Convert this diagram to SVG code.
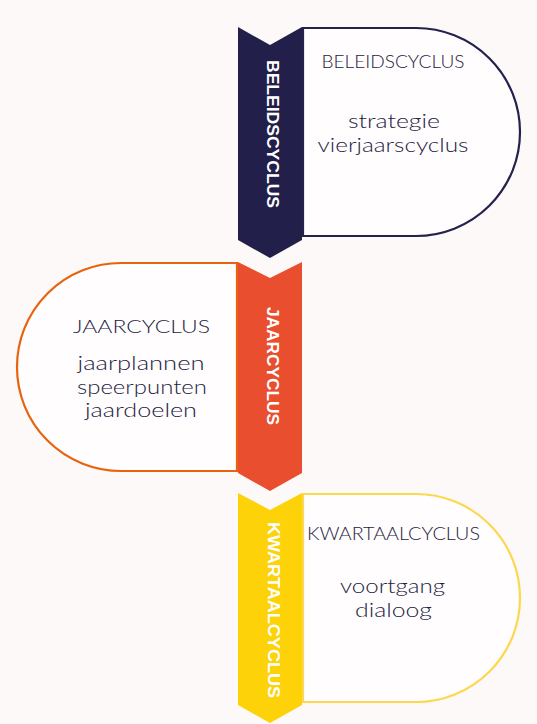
<svg xmlns="http://www.w3.org/2000/svg" width="537" height="724" viewBox="0 0 537 724">
<style>
.bg{fill:#fdf9f8}
.box{fill:#fffdfd;stroke-width:2.2}
.t{font-family:Lato,"Noto Sans",sans-serif;font-weight:300;fill:#23223d;text-anchor:middle}
.h{font-size:17px}
.b{font-size:19px}
.v{font-family:"Liberation Sans",Arial,sans-serif;font-weight:bold;font-size:16px;fill:#ffffff;text-anchor:middle}
</style>
<rect class="bg" x="0" y="0" width="537" height="724"/>
<g id="beleidscyclus">
<path class="box" stroke="#24224d" d="M303,28 H416 A104,104 0 0 1 416,236 H303 Z"/>
<polygon fill="#22204a" points="238,27 270,45 302,27 302,240 270,258 238,240"/>
<text class="v" transform="translate(267,134) rotate(90)" textLength="148" lengthAdjust="spacingAndGlyphs">BELEIDSCYCLUS</text>
<text class="t h" x="393" y="68" textLength="143" lengthAdjust="spacingAndGlyphs">BELEIDSCYCLUS</text>
<text class="t b" x="394" y="128" textLength="92" lengthAdjust="spacingAndGlyphs">strategie</text>
<text class="t b" x="393" y="152" textLength="151" lengthAdjust="spacingAndGlyphs">vierjaarscyclus</text>
</g>
<g id="jaarcyclus">
<path class="box" stroke="#e8630e" d="M237,263 H121 A104,104 0 0 0 121,471 H237 Z"/>
<polygon fill="#e94e2f" points="238,262 270,278 302,262 302,473 270,491 238,473"/>
<text class="v" transform="translate(267,366) rotate(90)" textLength="118" lengthAdjust="spacingAndGlyphs">JAARCYCLUS</text>
<text class="t h" x="141.5" y="333" textLength="137" lengthAdjust="spacingAndGlyphs">JAARCYCLUS</text>
<text class="t b" x="141" y="370" textLength="127" lengthAdjust="spacingAndGlyphs">jaarplannen</text>
<text class="t b" x="142" y="394" textLength="130" lengthAdjust="spacingAndGlyphs">speerpunten</text>
<text class="t b" x="141" y="417" textLength="112" lengthAdjust="spacingAndGlyphs">jaardoelen</text>
</g>
<g id="kwartaalcyclus">
<path class="box" stroke="#fbd84f" d="M303,494 H416 A104,104 0 0 1 416,702 H303 Z"/>
<polygon fill="#fdd208" points="238,493 270,510 302,493 302,705 270,723 238,705"/>
<text class="v" transform="translate(268,610) rotate(90)" textLength="176" lengthAdjust="spacingAndGlyphs">KWARTAALCYCLUS</text>
<text class="t h" x="393.5" y="540" textLength="173" lengthAdjust="spacingAndGlyphs">KWARTAALCYCLUS</text>
<text class="t b" x="392.5" y="593" textLength="105" lengthAdjust="spacingAndGlyphs">voortgang</text>
<text class="t b" x="393.5" y="617" textLength="77" lengthAdjust="spacingAndGlyphs">dialoog</text>
</g>
<g id="connectors"/>
</svg>
